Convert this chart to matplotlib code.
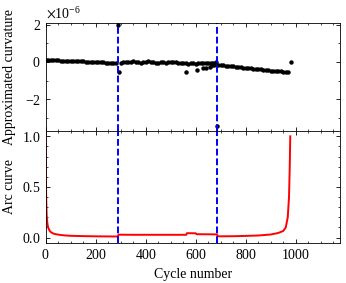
import numpy as np
import matplotlib
matplotlib.use("Agg")
import matplotlib.pyplot as plt
from matplotlib.ticker import MultipleLocator

plt.rcParams["font.family"] = ["Liberation Serif", "DejaVu Serif"]
plt.rcParams["mathtext.fontset"] = "stix"
plt.rcParams["axes.formatter.use_mathtext"] = True
plt.rcParams["font.size"] = 10

# approximated curvature (x1e-6), main band read every 10 cycles
cyc1 = np.arange(0, 290, 10)
curv1 = [0.10, 0.10, 0.09, 0.09, 0.08, 0.08, 0.07, 0.07, 0.06, 0.06,
         0.05, 0.05, 0.04, 0.04, 0.03, 0.03, 0.02, 0.02, 0.01, 0.01,
         0.00, 0.00, -0.01, -0.02, -0.03, -0.04, -0.05, -0.06, -0.07]
cyc2 = np.arange(300, 690, 10)
curv2 = [-0.08, -0.02, 0.02, 0.01, 0.02, 0.04, 0.02, -0.01, -0.03, -0.02,
         0.02, 0.05, 0.02, -0.02, -0.03, -0.03, -0.02, -0.02, -0.03, -0.02,
         0.00, 0.02, -0.02, -0.04, -0.05, -0.06, -0.08, -0.09, -0.08, -0.08,
         -0.09, -0.08, -0.08, -0.07, -0.07, -0.06, -0.05, -0.03, 0.02]
cyc3 = np.arange(690, 980, 10)
curv3 = [-0.16, -0.17, -0.19, -0.20, -0.22, -0.23, -0.24, -0.26, -0.27, -0.29,
         -0.30, -0.31, -0.33, -0.34, -0.36, -0.37, -0.39, -0.40, -0.41, -0.43,
         -0.44, -0.46, -0.47, -0.49, -0.50, -0.51, -0.53, -0.54, -0.56]
# isolated points
cyc_out = [290, 292, 563, 604, 628, 641, 657, 665, 672, 686, 981]
curv_out = [2.0, -0.52, -0.56, -0.43, -0.34, -0.30, -0.25, -0.18, -0.15, -3.45, 0.0]

# arc curve
arc_x = [0, 1, 2, 3, 4, 6, 8, 10, 15, 20, 30, 40, 60, 80, 100, 150, 200, 250, 289,
         291, 350, 450, 562, 565, 600, 603, 685, 688, 750, 800, 850, 900, 930,
         950, 960, 968, 973, 976, 978]
arc_y = [1.0, 0.6, 0.4, 0.3, 0.22, 0.16, 0.12, 0.10, 0.07, 0.055, 0.04, 0.033,
         0.025, 0.02, 0.017, 0.014, 0.012, 0.011, 0.010,
         0.028, 0.027, 0.027, 0.027, 0.043, 0.042, 0.033, 0.031, 0.012, 0.013,
         0.016, 0.020, 0.030, 0.045, 0.065, 0.10, 0.20, 0.40, 0.70, 1.0]

change_points = [290, 686]

fig = plt.figure(figsize=(3.46, 2.83), dpi=100)
gs = fig.add_gridspec(2, 1, height_ratios=[107.5, 112], hspace=0,
                      left=0.132, right=0.982, top=0.919, bottom=0.141)
ax1 = fig.add_subplot(gs[0])
ax2 = fig.add_subplot(gs[1], sharex=ax1)

cx = np.concatenate([cyc1, cyc2, cyc3, cyc_out])
cy = np.concatenate([curv1, curv2, curv3, curv_out]) * 1e-6
ax1.plot(cx, cy, "o", color="black", ms=3.2, mec="none")
ax2.plot(arc_x, arc_y, color="red", lw=1.4)

for ax in (ax1, ax2):
    for c in change_points:
        ax.axvline(c, color="blue", ls=(0, (3.5, 1.5)), lw=1.4)
    ax.tick_params(which="both", direction="in", top=True, right=True)
    ax.tick_params(which="major", length=3, width=0.6)
    ax.tick_params(which="minor", length=1.6, width=0.5)
    for s in ax.spines.values():
        s.set_linewidth(0.6)
    ax.xaxis.set_major_locator(MultipleLocator(200))
    ax.xaxis.set_minor_locator(MultipleLocator(50))

ax1.set_xlim(0, 1176)
ax1.set_ylim(-3.7e-6, 2.1e-6)
ax1.yaxis.set_major_locator(MultipleLocator(2e-6))
ax1.yaxis.set_minor_locator(MultipleLocator(1e-6))
ax1.tick_params(labelbottom=False)
ax1.set_ylabel("Approximated curvature")

ax2.set_ylim(-0.055, 1.055)
ax2.yaxis.set_major_locator(MultipleLocator(0.5))
ax2.yaxis.set_minor_locator(MultipleLocator(0.1))
ax2.set_ylabel("Arc curve")
ax2.set_xlabel("Cycle number")

fig.align_ylabels([ax1, ax2])
fig.savefig("out.png", dpi=100)
